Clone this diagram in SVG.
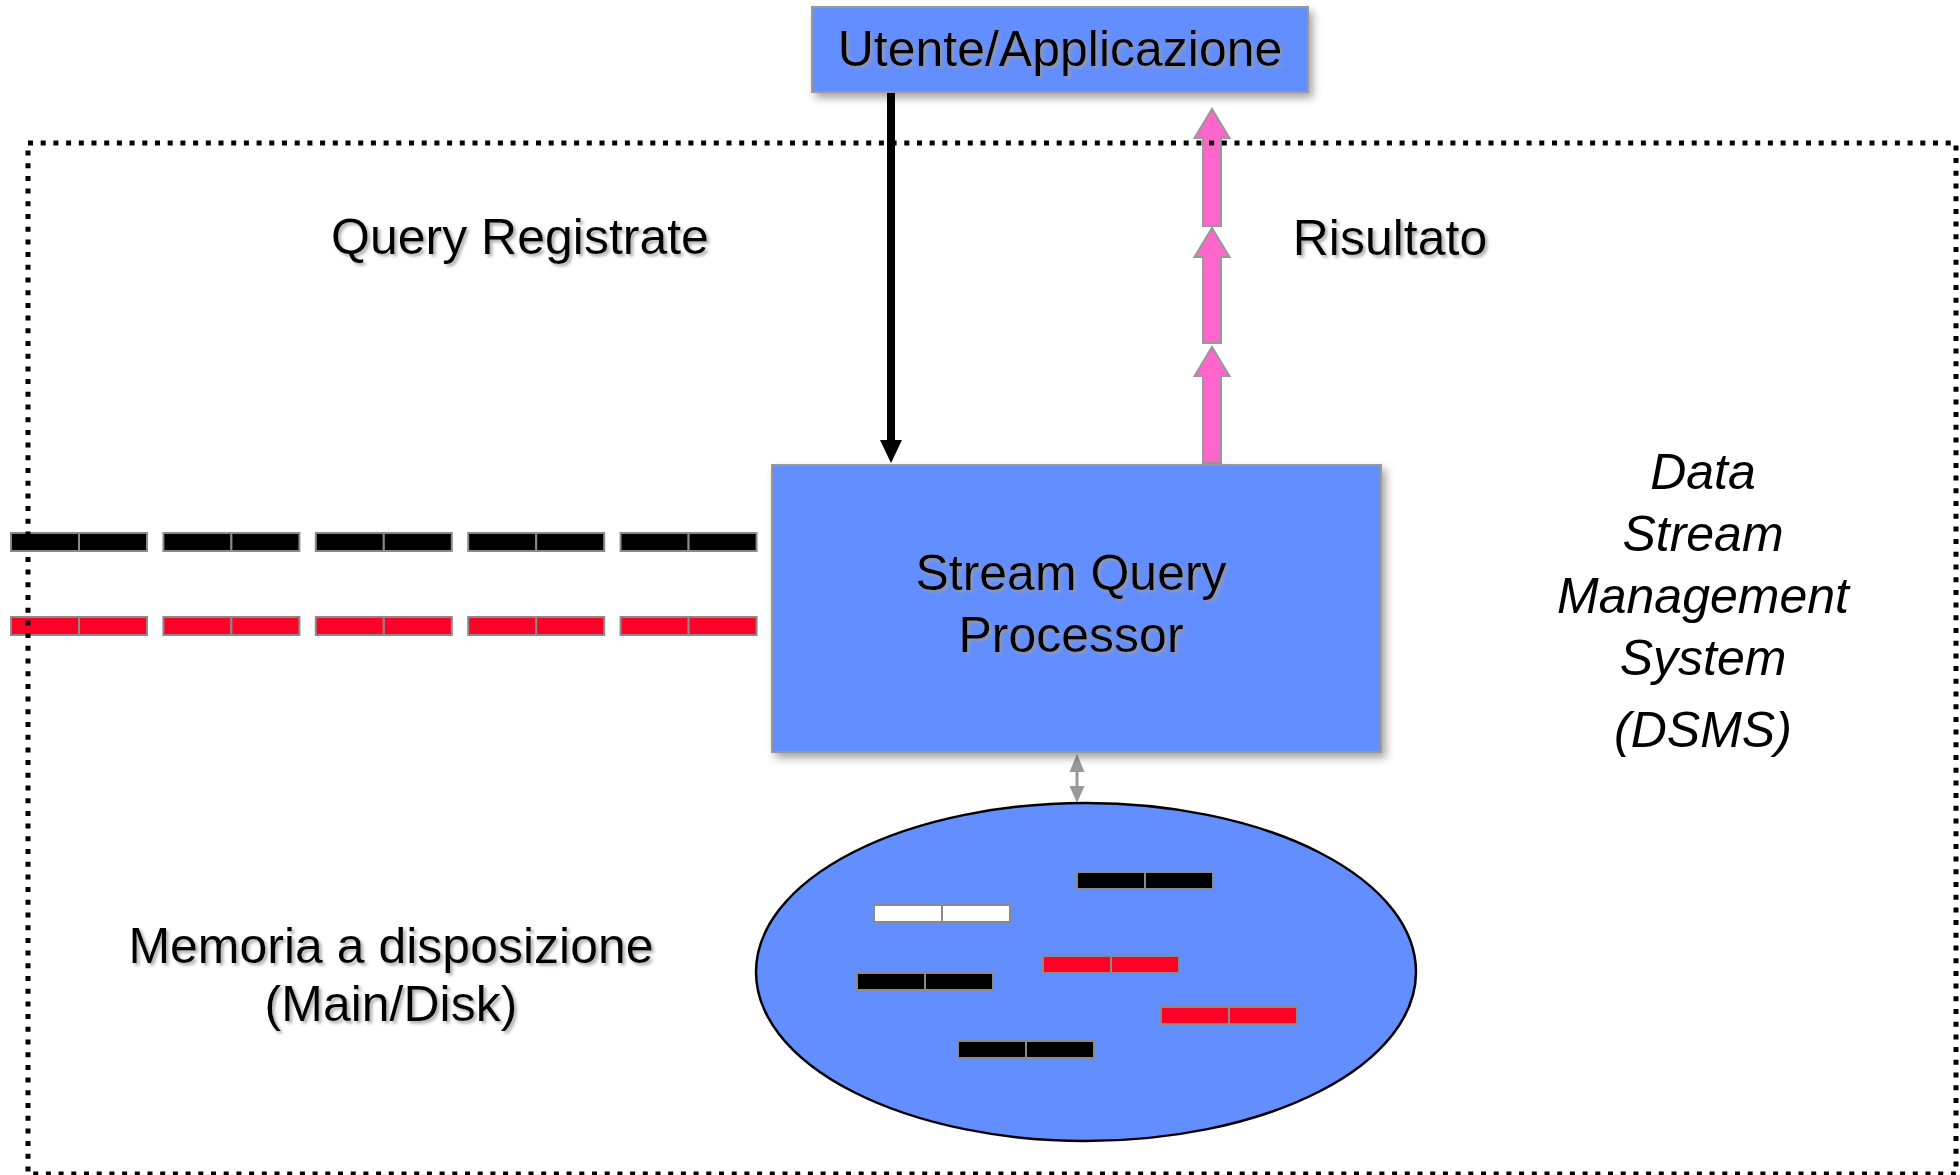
<svg xmlns="http://www.w3.org/2000/svg" xmlns:xlink="http://www.w3.org/1999/xlink" width="1960" height="1175" viewBox="0 0 1960 1175">
  <defs>
    <style>
      .lbl { font-family: "Liberation Sans", Arial, sans-serif; font-size: 50px; fill: #000; }
      .mid { text-anchor: middle; }
      .ital { font-style: italic; }
      .box { fill: #628EFF; stroke: #999999; stroke-width: 2; }
      .blk { stroke: #8a8a8a; stroke-width: 2; }
      .k { fill: #000000; }
      .r { fill: #FF0027; }
      .w { fill: #FFFFFF; }
      .pink { fill: #FF66CC; stroke: #999999; stroke-width: 2; stroke-linejoin: miter; }
    </style>
    <filter id="boxShadow" x="-10%" y="-10%" width="130%" height="140%">
      <feDropShadow dx="4" dy="5" stdDeviation="4" flood-color="#000" flood-opacity="0.35"/>
    </filter>
    <filter id="txtShadow" x="-5%" y="-20%" width="115%" height="150%">
      <feDropShadow dx="2.5" dy="2.5" stdDeviation="1.5" flood-color="#9a9a9a" flood-opacity="0.8"/>
    </filter>
    <!-- two-cell data tuple, stream size -->
    <g id="sb">
      <rect x="0" y="0" width="68" height="18"/>
      <rect x="68" y="0" width="68" height="18"/>
    </g>
    <!-- two-cell data tuple, memory size -->
    <g id="mb">
      <rect x="0" y="0" width="68" height="17"/>
      <rect x="68" y="0" width="68" height="17"/>
    </g>
  </defs>

  <rect width="1960" height="1175" fill="#ffffff"/>

  <!-- connectors -->
  <g id="connectors">
    <!-- query registration: user -> processor -->
    <line x1="891" y1="92" x2="891" y2="444" stroke="#000" stroke-width="8"/>
    <polygon points="880,440 902,440 891,463" fill="#000"/>
    <!-- result flow: processor -> user -->
    <polygon class="pink" points="1203,463 1203,376 1194.5,376 1212,347 1229.5,376 1221,376 1221,463"/>
    <polygon class="pink" points="1203,343 1203,257 1194.5,257 1212,228 1229.5,257 1221,257 1221,343"/>
    <polygon class="pink" points="1203,226 1203,138 1194.5,138 1212,109 1229.5,138 1221,138 1221,226"/>
    <!-- processor <-> memory -->
    <line x1="1077" y1="768" x2="1077" y2="790" stroke="#999" stroke-width="3"/>
    <polygon points="1069.5,772 1084.5,772 1077,754" fill="#999"/>
    <polygon points="1069.5,786 1084.5,786 1077,803" fill="#999"/>
  </g>

  <!-- incoming streams -->
  <g id="stream-black" class="blk k">
    <use xlink:href="#sb" x="11" y="533"/>
    <use xlink:href="#sb" x="163.4" y="533"/>
    <use xlink:href="#sb" x="315.8" y="533"/>
    <use xlink:href="#sb" x="468.2" y="533"/>
    <use xlink:href="#sb" x="620.6" y="533"/>
  </g>
  <g id="stream-red" class="blk r">
    <use xlink:href="#sb" x="11" y="617"/>
    <use xlink:href="#sb" x="163.4" y="617"/>
    <use xlink:href="#sb" x="315.8" y="617"/>
    <use xlink:href="#sb" x="468.2" y="617"/>
    <use xlink:href="#sb" x="620.6" y="617"/>
  </g>

  <!-- user / application -->
  <g id="user">
    <rect class="box" x="812" y="7" width="496" height="85" filter="url(#boxShadow)"/>
    <text class="lbl mid" x="1060" y="66" font-size="51" filter="url(#txtShadow)">Utente/Applicazione</text>
  </g>

  <!-- stream query processor -->
  <g id="processor">
    <rect class="box" x="772" y="465" width="609" height="287" filter="url(#boxShadow)"/>
    <text class="lbl mid" x="1071" y="590" filter="url(#txtShadow)">Stream Query</text>
    <text class="lbl mid" x="1071" y="652" filter="url(#txtShadow)">Processor</text>
  </g>

  <!-- available memory -->
  <g id="memory">
    <ellipse cx="1086" cy="972" rx="330" ry="169" fill="#628EFF" stroke="#000" stroke-width="2.5"/>
    <use class="blk k" xlink:href="#mb" x="1077" y="872"/>
    <use class="blk w" xlink:href="#mb" x="874" y="905"/>
    <use class="blk r" xlink:href="#mb" x="1043" y="956"/>
    <use class="blk k" xlink:href="#mb" x="857" y="973"/>
    <use class="blk r" xlink:href="#mb" x="1161" y="1007"/>
    <use class="blk k" xlink:href="#mb" x="958" y="1041"/>
  </g>

  <!-- labels -->
  <g id="labels">
    <text class="lbl" x="331" y="254" filter="url(#txtShadow)">Query Registrate</text>
    <text class="lbl mid" x="1390" y="255" filter="url(#txtShadow)">Risultato</text>
    <text class="lbl mid" x="391" y="963" filter="url(#txtShadow)">Memoria a disposizione</text>
    <text class="lbl mid" x="391" y="1021" filter="url(#txtShadow)">(Main/Disk)</text>
    <g class="lbl mid ital">
      <text x="1703" y="489">Data</text>
      <text x="1703" y="551">Stream</text>
      <text x="1703" y="613">Management</text>
      <text x="1703" y="675">System</text>
      <text x="1703" y="747">(DSMS)</text>
    </g>
  </g>

  <!-- DSMS boundary -->
  <g id="dsms-boundary">
    <rect x="28" y="143" width="1928" height="1031" fill="none" stroke="#000" stroke-width="5" stroke-dasharray="5 7.7"/>
  </g>
</svg>
